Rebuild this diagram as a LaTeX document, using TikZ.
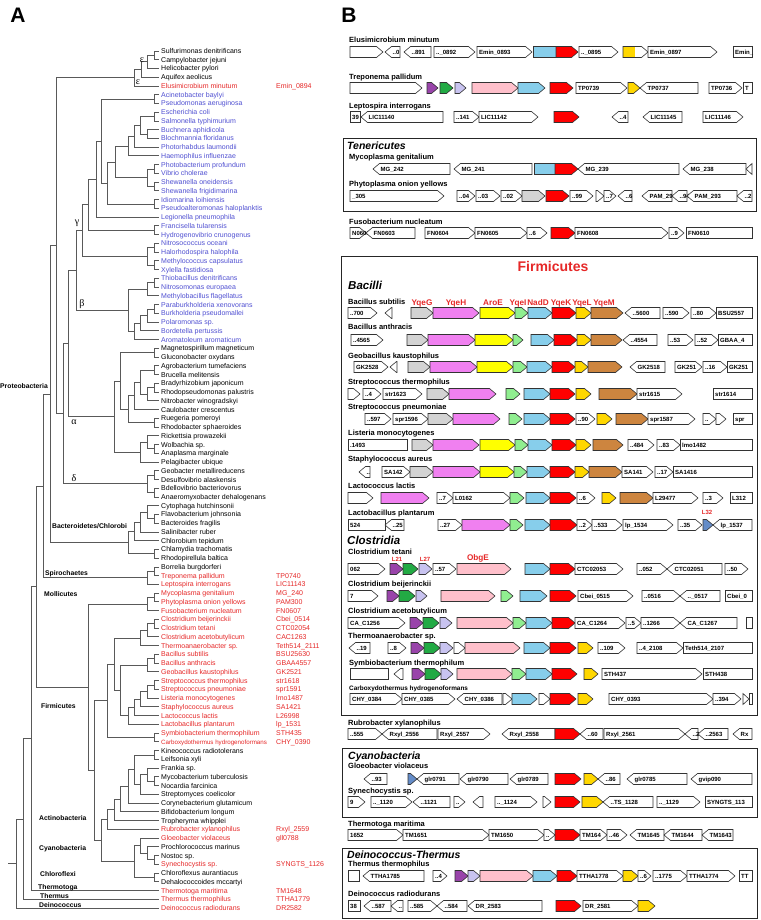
\documentclass[tikz,border=0pt]{standalone}
\usepackage{fontspec}
\setmainfont{Liberation Sans}
\newfontfamily\grk{Liberation Serif}
\definecolor{cgray}{RGB}{211,211,211}
\definecolor{cmag}{RGB}{240,128,240}
\definecolor{cyel}{RGB}{255,255,0}
\definecolor{cgrn}{RGB}{144,238,144}
\definecolor{cblu}{RGB}{135,206,235}
\definecolor{cred}{RGB}{255,0,0}
\definecolor{cgold}{RGB}{255,215,0}
\definecolor{cbrn}{RGB}{205,133,63}
\definecolor{cpur}{RGB}{153,68,170}
\definecolor{cdg}{RGB}{34,170,68}
\definecolor{clav}{RGB}{200,195,240}
\definecolor{cpink}{RGB}{255,192,203}
\definecolor{cstl}{RGB}{100,140,200}
\definecolor{tred}{RGB}{230,40,40}
\definecolor{tblu}{RGB}{80,80,210}
\tikzset{
  gene/.style={draw=black!80, line width=0.6pt, line join=miter},
  glab/.style={font=\fontsize{6}{7}\selectfont\bfseries, inner sep=0pt, anchor=base west, yshift=-2.2pt},
  sp/.style={font=\fontsize{7.5}{9}\selectfont\bfseries, inner sep=0pt, anchor=base west, yshift=-2.7pt},
  sec/.style={font=\fontsize{10.5}{12}\selectfont\bfseries\itshape, inner sep=0pt, anchor=base west, yshift=-3.8pt},
  sec2/.style={font=\fontsize{11.5}{13}\selectfont\bfseries\itshape, inner sep=0pt, anchor=base west, yshift=-4.1pt},
  rlab/.style={font=\fontsize{8.2}{9}\selectfont\bfseries, text=tred, inner sep=0pt, anchor=base, yshift=-3pt},
  slab/.style={font=\fontsize{6}{7}\selectfont\bfseries, text=tred, inner sep=0pt, anchor=base, yshift=-2.2pt},
  boxs/.style={draw=black!85, line width=1pt},
  tree/.style={draw=black!65, line width=0.9pt},
  leaf/.style={font=\fontsize{7}{8}\selectfont, inner sep=0pt, anchor=base west, yshift=-2.5pt},
  clab/.style={font=\fontsize{6.8}{8}\selectfont\bfseries, inner sep=0pt, anchor=base west, yshift=-2.4pt},
  gk/.style={font=\fontsize{10}{11}\selectfont\grk, inner sep=0pt},
  panel/.style={font=\fontsize{21}{22}\selectfont\bfseries, inner sep=0pt}
}
\newcommand\GR[5]{\pgfmathsetmacro\tp{max(#1,#2-6.5)}%
  \draw[gene,fill=#4] (#1,#3-5.5) -- (\tp,#3-5.5) -- (#2,#3) -- (\tp,#3+5.5) -- (#1,#3+5.5) -- cycle;
  \node[glab] at (#1+2,#3) {#5};}
\newcommand\GL[5]{\pgfmathsetmacro\tp{min(#2,#1+6.5)}%
  \draw[gene,fill=#4] (#2,#3-5.5) -- (\tp,#3-5.5) -- (#1,#3) -- (\tp,#3+5.5) -- (#2,#3+5.5) -- cycle;
  \node[glab] at (\tp+1,#3) {#5};}
\newcommand\GB[5]{\draw[gene,fill=#4] (#1,#3-5.5) rectangle (#2,#3+5.5);
  \node[glab] at (#1+2,#3) {#5};}
\newcommand\nd[5]{\draw[tree] (#2,#3) -- (#1,#3) -- (#1,#5) -- (#4,#5);}
\newcommand\lf[4]{\node[leaf,text=#2] at (161,#1) {#3};\node[leaf,text=#2] at (276,#1) {#4};}
\begin{document}
\begin{tikzpicture}[x=1pt,y=-1pt]
\path[use as bounding box, fill=white] (0,0) rectangle (760,920);
\node[panel] (pa) at (18,15) {A};
\node[panel] (pb) at (349,15) {B};
% ================= TREE =================
\begin{scope}[y=-8.745pt, yshift=-42.255pt]
\nd{154}{159}{1}{159}{2}
\nd{147}{154}{1.5}{159}{3}
\nd{141}{147}{2.25}{159}{4}
\nd{134}{141}{3.125}{159}{5}
\nd{154}{159}{6}{159}{7}
\nd{154}{159}{8}{159}{9}
\nd{147}{159}{10}{159}{11}
\nd{140}{154}{8.5}{147}{10.5}
\nd{134}{140}{9.5}{159}{12}
\nd{128}{134}{10.75}{159}{13}
\nd{154}{159}{14}{159}{15}
\nd{154}{159}{16}{159}{17}
\nd{147}{154}{14.5}{154}{16.5}
\nd{115}{128}{11.875}{147}{15.5}
\nd{154}{159}{18}{159}{19}
\nd{107}{115}{13.6875}{154}{18.5}
\nd{101}{154}{6.5}{107}{16.09375}
\nd{96}{101}{11.296875}{159}{20}
\nd{154}{159}{21}{159}{22}
\nd{88}{96}{15.6484}{154}{21.5}
\nd{154}{159}{23}{159}{24}
\nd{154}{159}{25}{159}{26}
\nd{147}{154}{23.5}{154}{25.5}
\nd{82}{88}{18.5742}{147}{24.5}
\nd{154}{159}{27}{159}{28}
\nd{147}{154}{27.5}{159}{29}
\nd{154}{159}{30}{159}{31}
\nd{147}{154}{30.5}{159}{32}
\nd{140}{147}{31.25}{159}{33}
\nd{134}{140}{32.125}{159}{34}
\nd{128}{147}{28.25}{134}{33.0625}
\nd{76}{82}{21.5371}{128}{30.65625}
\nd{154}{159}{35}{159}{36}
\nd{154}{159}{37}{159}{38}
\nd{154}{159}{39}{159}{40}
\nd{147}{154}{39.5}{159}{41}
\nd{140}{154}{37.5}{147}{40.25}
\nd{134}{140}{38.875}{159}{42}
\nd{154}{159}{43}{159}{44}
\nd{128}{134}{40.4375}{154}{43.5}
\nd{120}{154}{35.5}{128}{41.96875}
\nd{154}{159}{46}{159}{47}
\nd{147}{159}{45}{154}{46.5}
\nd{140}{147}{45.75}{159}{48}
\nd{114}{120}{38.734375}{140}{46.875}
\nd{68}{76}{26.0967}{114}{42.8047}
\nd{154}{159}{49}{159}{50}
\nd{154}{159}{51}{159}{52}
\nd{147}{154}{49.5}{154}{51.5}
\nd{63}{68}{34.4507}{147}{50.5}
\nd{56}{134}{4.0625}{63}{42.4754}
\nd{154}{159}{54}{159}{55}
\nd{147}{159}{53}{154}{54.5}
\nd{140}{147}{53.75}{159}{56}
\nd{134}{140}{54.875}{159}{57}
\nd{154}{159}{58}{159}{59}
\nd{128}{134}{55.9375}{154}{58.5}
\nd{50}{56}{23.269}{128}{57.21875}
\nd{154}{159}{60}{159}{61}
\nd{147}{154}{60.5}{159}{62}
\nd{43}{50}{40.2439}{147}{61.25}
\nd{154}{159}{63}{159}{64}
\nd{147}{154}{63.5}{159}{65}
\nd{154}{159}{66}{159}{67}
\nd{147}{154}{66.5}{159}{68}
\nd{140}{147}{67.25}{159}{69}
\nd{154}{159}{70}{159}{71}
\nd{147}{154}{70.5}{159}{72}
\nd{154}{159}{73}{159}{74}
\nd{147}{154}{73.5}{159}{75}
\nd{140}{147}{74.25}{159}{76}
\nd{134}{140}{75.125}{159}{77}
\nd{128}{134}{76.0625}{159}{78}
\nd{120}{147}{71.25}{128}{77.03125}
\nd{114}{140}{68.125}{120}{74.140625}
\nd{154}{159}{79}{159}{80}
\nd{107}{114}{71.1328}{154}{79.5}
\nd{154}{159}{81}{159}{82}
\nd{154}{159}{84}{159}{85}
\nd{147}{159}{83}{154}{84.5}
\nd{140}{147}{83.75}{159}{86}
\nd{134}{154}{81.5}{140}{84.875}
\nd{128}{134}{83.1875}{159}{87}
\nd{120}{128}{85.09375}{159}{88}
\nd{114}{120}{86.546875}{159}{89}
\nd{107}{114}{87.7734}{159}{90}
\nd{154}{159}{93}{159}{94}
\nd{147}{159}{92}{154}{93.5}
\nd{140}{159}{91}{147}{92.75}
\nd{154}{159}{95}{159}{96}
\nd{134}{140}{91.875}{154}{95.5}
\nd{101}{107}{88.8867}{134}{93.6875}
\nd{94}{107}{75.3164}{101}{91.2871}
\nd{88}{147}{64.25}{94}{83.3018}
\nd{36}{43}{50.747}{88}{73.7759}
\nd{31}{36}{62.2615}{159}{97}
\nd{23}{31}{79.6307}{159}{98}
\nd{16}{23}{88.8154}{159}{99}
\draw[tree] (8,93.9077) -- (16,93.9077);
% leaves
\lf{1}{black}{Sulfurimonas denitrificans}{}
\lf{2}{black}{Campylobacter jejuni}{}
\lf{3}{black}{Helicobacter pylori}{}
\lf{4}{black}{Aquifex aeolicus}{}
\lf{5}{tred}{Elusimicrobium minutum}{Emin\_0894}
\lf{6}{tblu}{Acinetobacter baylyi}{}
\lf{7}{tblu}{Pseudomonas aeruginosa}{}
\lf{8}{tblu}{Escherichia coli}{}
\lf{9}{tblu}{Salmonella typhimurium}{}
\lf{10}{tblu}{Buchnera aphidicola}{}
\lf{11}{tblu}{Blochmannia floridanus}{}
\lf{12}{tblu}{Photorhabdus laumondii}{}
\lf{13}{tblu}{Haemophilus influenzae}{}
\lf{14}{tblu}{Photobacterium profundum}{}
\lf{15}{tblu}{Vibrio cholerae}{}
\lf{16}{tblu}{Shewanella oneidensis}{}
\lf{17}{tblu}{Shewanella frigidimarina}{}
\lf{18}{tblu}{Idiomarina loihiensis}{}
\lf{19}{tblu}{Pseudoalteromonas haloplanktis}{}
\lf{20}{tblu}{Legionella pneumophila}{}
\lf{21}{tblu}{Francisella tularensis}{}
\lf{22}{tblu}{Hydrogenovibrio crunogenus}{}
\lf{23}{tblu}{Nitrosococcus oceani}{}
\lf{24}{tblu}{Halorhodospira halophila}{}
\lf{25}{tblu}{Methylococcus capsulatus}{}
\lf{26}{tblu}{Xylella fastidiosa}{}
\lf{27}{tblu}{Thiobacillus denitrificans}{}
\lf{28}{tblu}{Nitrosomonas europaea}{}
\lf{29}{tblu}{Methylobacillus flagellatus}{}
\lf{30}{tblu}{Paraburkholderia xenovorans}{}
\lf{31}{tblu}{Burkholderia pseudomallei}{}
\lf{32}{tblu}{Polaromonas sp.}{}
\lf{33}{tblu}{Bordetella pertussis}{}
\lf{34}{tblu}{Aromatoleum aromaticum}{}
\lf{35}{black}{Magnetospirillum magneticum}{}
\lf{36}{black}{Gluconobacter oxydans}{}
\lf{37}{black}{Agrobacterium tumefaciens}{}
\lf{38}{black}{Brucella melitensis}{}
\lf{39}{black}{Bradyrhizobium japonicum}{}
\lf{40}{black}{Rhodopseudomonas palustris}{}
\lf{41}{black}{Nitrobacter winogradskyi}{}
\lf{42}{black}{Caulobacter crescentus}{}
\lf{43}{black}{Ruegeria pomeroyi}{}
\lf{44}{black}{Rhodobacter sphaeroides}{}
\lf{45}{black}{Rickettsia prowazekii}{}
\lf{46}{black}{Wolbachia sp.}{}
\lf{47}{black}{Anaplasma marginale}{}
\lf{48}{black}{Pelagibacter ubique}{}
\lf{49}{black}{Geobacter metallireducens}{}
\lf{50}{black}{Desulfovibrio alaskensis}{}
\lf{51}{black}{Bdellovibrio bacteriovorus}{}
\lf{52}{black}{Anaeromyxobacter dehalogenans}{}
\lf{53}{black}{Cytophaga hutchinsonii}{}
\lf{54}{black}{Flavobacterium johnsonia}{}
\lf{55}{black}{Bacteroides fragilis}{}
\lf{56}{black}{Salinibacter ruber}{}
\lf{57}{black}{Chlorobium tepidum}{}
\lf{58}{black}{Chlamydia trachomatis}{}
\lf{59}{black}{Rhodopirellula baltica}{}
\lf{60}{black}{Borrelia burgdorferi}{}
\lf{61}{tred}{Treponema pallidum}{TP0740}
\lf{62}{tred}{Leptospira interrogans}{LIC11143}
\lf{63}{tred}{Mycoplasma genitalium}{MG\_240}
\lf{64}{tred}{Phytoplasma onion yellows}{PAM300}
\lf{65}{tred}{Fusobacterium nucleatum}{FN0607}
\lf{66}{tred}{Clostridium beijerinckii}{Cbei\_0514}
\lf{67}{tred}{Clostridium tetani}{CTC02054}
\lf{68}{tred}{Clostridium acetobutylicum}{CAC1263}
\lf{69}{tred}{Thermoanaerobacter sp.}{Teth514\_2111}
\lf{70}{tred}{Bacillus subtilis}{BSU25630}
\lf{71}{tred}{Bacillus anthracis}{GBAA4557}
\lf{72}{tred}{Geobacillus kaustophilus}{GK2521}
\lf{73}{tred}{Streptococcus thermophilus}{str1618}
\lf{74}{tred}{Streptococcus pneumoniae}{spr1591}
\lf{75}{tred}{Listeria monocytogenes}{lmo1487}
\lf{76}{tred}{Staphylococcus aureus}{SA1421}
\lf{77}{tred}{Lactococcus lactis}{L26998}
\lf{78}{tred}{Lactobacillus plantarum}{lp\_1531}
\lf{79}{tred}{Symbiobacterium thermophilum}{STH435}
\node[leaf,text=tred,font=\fontsize{6.2}{7}\selectfont] (carb) at (161,80) {Carboxydothermus hydrogenoformans};
\node[leaf,text=tred] (carbid) at (276,80) {CHY\_0390};
\lf{81}{black}{Kineococcus radiotolerans}{}
\lf{82}{black}{Leifsonia xyli}{}
\lf{83}{black}{Frankia sp.}{}
\lf{84}{black}{Mycobacterium tuberculosis}{}
\lf{85}{black}{Nocardia farcinica}{}
\lf{86}{black}{Streptomyces coelicolor}{}
\lf{87}{black}{Corynebacterium glutamicum}{}
\lf{88}{black}{Bifidobacterium longum}{}
\lf{89}{black}{Tropheryma whipplei}{}
\lf{90}{tred}{Rubrobacter xylanophilus}{Rxyl\_2559}
\lf{91}{tred}{Gloeobacter violaceus}{gll0788}
\lf{92}{black}{Prochlorococcus marinus}{}
\lf{93}{black}{Nostoc sp.}{}
\lf{94}{tred}{Synechocystis sp.}{SYNGTS\_1126}
\lf{95}{black}{Chloroflexus aurantiacus}{}
\lf{96}{black}{Dehalococcoides mccartyi}{}
\lf{97}{tred}{Thermotoga maritima}{TM1648}
\lf{98}{tred}{Thermus thermophilus}{TTHA1779}
\lf{99}{tred}{Deinococcus radiodurans}{DR2582}
\end{scope}
% greek clade letters
\node[gk] (e1) at (142,60) {ε};
\node[gk] (e2) at (138,82) {ε};
\node[gk] (gm) at (77,223) {γ};
\node[gk] (bt) at (82,304) {β};
\node[gk] (al) at (74,422) {α};
\node[gk] (dl) at (74,478) {δ};
% clade names
\node[clab] (c1) at (0,386) {Proteobacteria};
\node[clab] (c2) at (52,526) {Bacteroidetes/Chlorobi};
\node[clab] (c3) at (45,573) {Spirochaetes};
\node[clab] (c4) at (44,594) {Mollicutes};
\node[clab] (c5) at (41,706) {Firmicutes};
\node[clab] (c6) at (39,818) {Actinobacteria};
\node[clab] (c7) at (39,848) {Cyanobacteria};
\node[clab] (c8) at (40,874) {Chloroflexi};
\node[clab] (c9) at (38,887) {Thermotoga};
\node[clab] (c10) at (40,896) {Thermus};
\node[clab] (c11) at (39,905) {Deinococcus};
% ================= PANEL B =================
% Elusimicrobium
\node[sp] (s1) at (349,40) {Elusimicrobium minutum};
\GR{350}{383}{52}{white}{}
\GL{385}{400}{52}{white}{..0}
\GL{404}{431}{52}{white}{..891}
\GR{434}{475}{52}{white}{..\_0892}
\GR{477}{532}{52}{white}{Emin\_0893}
\GB{533}{556}{52}{cblu}{}
\GR{556}{578}{52}{cred}{}
\GR{579}{618}{52}{white}{..\_0895}
\fill[cgold] (623,46.5) rectangle (635,57.5);
\GR{623}{648}{52}{none}{}
\GR{648}{717}{52}{white}{Emin\_0897}
\GB{733}{752}{52}{white}{Emin\_}
% Treponema
\node[sp] (s2) at (349,77) {Treponema pallidum};
\GR{350}{422}{88}{white}{}
\GR{427}{438}{88}{cpur}{}
\GR{440}{453}{88}{cdg}{}
\GR{455}{466}{88}{clav}{}
\GR{472}{518}{88}{cpink}{}
\GR{518}{545}{88}{cblu}{}
\GR{550}{573}{88}{cred}{}
\GR{576}{627}{88}{white}{TP0739}
\GR{628}{640}{88}{cgold}{}
\GL{640}{698}{88}{white}{TP0737}
\GR{709}{742}{88}{white}{TP0736}
\GB{743}{752}{88}{white}{T}
% Leptospira
\node[sp] (s3) at (349,106) {Leptospira interrogans};
\GB{350}{360}{117}{white}{39}
\GL{361}{443}{117}{white}{LIC11140}
\GR{454}{479}{117}{white}{..141}
\GR{479}{538}{117}{white}{LIC11142}
\GR{554}{579}{117}{cred}{}
\GL{612}{628}{117}{white}{..4}
\GL{643}{682}{117}{white}{LIC11145}
\GR{703}{743}{117}{white}{LIC11146}
% Tenericutes
\draw[boxs] (343,139) rectangle (756,211);
\node[sec] (t1) at (347,146) {Tenericutes};
\node[sp] (s4) at (349,157) {Mycoplasma genitalium};
\GL{373}{450}{169}{white}{MG\_242}
\GL{454}{532}{169}{white}{MG\_241}
\GB{534}{555}{169}{cblu}{}
\GR{555}{578}{169}{cred}{}
\GL{578}{679}{169}{white}{MG\_239}
\GL{683}{746}{169}{white}{MG\_238}
\GL{746}{752}{169}{white}{}
\node[sp] (s5) at (349,184) {Phytoplasma onion yellows};
\GR{350}{444}{196}{white}{\_305}
\GR{457}{475}{196}{white}{..04}
\GR{476}{500}{196}{white}{..03}
\GR{501}{522}{196}{white}{..02}
\GR{522}{545}{196}{cgray}{}
\GR{546}{569}{196}{cred}{}
\GR{570}{593}{196}{white}{..99}
\GR{596}{604}{196}{white}{}
\GR{604}{616}{196}{white}{..7}
\GL{618}{632}{196}{white}{..6}
\GL{642}{672}{196}{white}{PAM\_29}
\GL{672}{687}{196}{white}{..94}
\GL{687}{737}{196}{white}{PAM\_293}
\GL{737}{752}{196}{white}{..2}
% Fusobacterium
\node[sp] (s6) at (349,222) {Fusobacterium nucleatum};
\GR{350}{366}{233}{white}{N0602}
\GL{366}{415}{233}{white}{FN0603}
\GR{425}{475}{233}{white}{FN0604}
\GR{475}{527}{233}{white}{FN0605}
\GR{527}{547}{233}{white}{..6}
\GR{551}{575}{233}{cred}{}
\GR{575}{668}{233}{white}{FN0608}
\GR{669}{684}{233}{white}{..9}
\GB{686}{752}{233}{white}{FN0610}
% Firmicutes box
\draw[boxs] (341,256) rectangle (757,715);
\node[font=\fontsize{14}{16}\selectfont\bfseries, text=tred, inner sep=0pt] (ft) at (553,266) {Firmicutes};
\node[sec2] (t2) at (348,285) {Bacilli};
% B. subtilis
\node[sp] (s7) at (348,302) {Bacillus subtilis};
\node[rlab] (r1) at (422,302) {YqeG};
\node[rlab] (r2) at (456,302) {YqeH};
\node[rlab] (r3) at (493,302) {AroE};
\node[rlab] (r4) at (518,302) {YqeI};
\node[rlab] (r5) at (538,302) {NadD};
\node[rlab] (r6) at (561,302) {YqeK};
\node[rlab] (r7) at (582,302) {YqeL};
\node[rlab] (r8) at (604,302) {YqeM};
\GR{348}{377}{313}{white}{..700}
\GL{385}{392}{313}{white}{}
\GR{411}{433}{313}{cgray}{}
\GR{433}{479}{313}{cmag}{}
\GR{480}{515}{313}{cyel}{}
\GR{515}{528}{313}{cgrn}{}
\GR{528}{552}{313}{cblu}{}
\GR{552}{576}{313}{cred}{}
\GR{576}{591}{313}{cgold}{}
\GR{591}{623}{313}{cbrn}{}
\GL{625}{660}{313}{white}{..5600}
\GR{663}{689}{313}{white}{..590}
\GR{691}{716}{313}{white}{..80}
\GB{716}{752}{313}{white}{BSU2557}
% B. anthracis
\node[sp] (s8) at (348,327) {Bacillus anthracis};
\GR{351}{383}{340}{white}{..4565}
\GR{407}{428}{340}{cgray}{}
\GR{428}{475}{340}{cmag}{}
\GR{475}{513}{340}{cyel}{}
\GR{513}{523}{340}{cgrn}{}
\GR{531}{554}{340}{cblu}{}
\GR{554}{577}{340}{cred}{}
\GR{577}{591}{340}{cgold}{}
\GR{591}{622}{340}{cbrn}{}
\GL{623}{657}{340}{white}{..4554}
\GR{668}{693}{340}{white}{..53}
\GR{695}{718}{340}{white}{..52}
\GB{718}{752}{340}{white}{GBAA\_4}
% Geobacillus
\node[sp] (s9) at (348,356) {Geobacillus kaustophilus};
\GR{354}{388}{367}{white}{GK2528}
\GL{390}{397}{367}{white}{}
\GR{408}{430}{367}{cgray}{}
\GR{430}{477}{367}{cmag}{}
\GR{477}{513}{367}{cyel}{}
\GR{513}{527}{367}{cgrn}{}
\GR{527}{552}{367}{cblu}{}
\GR{552}{575}{367}{cred}{}
\GR{575}{588}{367}{cgold}{}
\GR{588}{622}{367}{cbrn}{}
\GL{630}{665}{367}{white}{GK2518}
\GR{675}{702}{367}{white}{GK251}
\GR{703}{727}{367}{white}{..16}
\GB{727}{752}{367}{white}{GK251}
% S. thermophilus
\node[sp] (s10) at (348,382) {Streptococcus thermophilus};
\GR{348}{360}{394}{white}{}
\GR{363}{381}{394}{white}{..4}
\GR{383}{422}{394}{white}{str1623}
\GR{427}{449}{394}{cgray}{}
\GR{449}{496}{394}{cmag}{}
\GR{506}{520}{394}{cgrn}{}
\GR{524}{550}{394}{cblu}{}
\GR{550}{575}{394}{cred}{}
\GR{576}{591}{394}{cgold}{}
\GR{599}{637}{394}{cbrn}{}
\GR{637}{682}{394}{white}{str1615}
\GB{713}{752}{394}{white}{str1614}
% S. pneumoniae
\node[sp] (s11) at (348,407) {Streptococcus pneumoniae};
\GR{365}{391}{419}{white}{..597}
\GR{393}{428}{419}{white}{spr1596}
\GR{428}{453}{419}{cgray}{}
\GR{453}{500}{419}{cmag}{}
\GR{509}{522}{419}{cgrn}{}
\GR{524}{550}{419}{cblu}{}
\GR{550}{575}{419}{cred}{}
\GR{576}{595}{419}{white}{..90}
\GR{597}{612}{419}{cgold}{}
\GR{616}{648}{419}{cbrn}{}
\GR{648}{695}{419}{white}{spr1587}
\GR{703}{716}{419}{white}{..}
\GR{716}{726}{419}{white}{}
\GB{733}{752}{419}{white}{spr}
% Listeria
\node[sp] (s12) at (348,433) {Listeria monocytogenes};
\GB{348}{407}{445}{white}{.1493}
\GR{412}{433}{445}{cgray}{}
\GR{433}{479}{445}{cmag}{}
\GR{480}{515}{445}{cyel}{}
\GR{515}{528}{445}{cgrn}{}
\GR{528}{552}{445}{cblu}{}
\GR{552}{576}{445}{cred}{}
\GR{576}{591}{445}{cgold}{}
\GR{593}{623}{445}{cbrn}{}
\GR{628}{654}{445}{white}{..484}
\GR{657}{680}{445}{white}{..83}
\GB{680}{752}{445}{white}{lmo1482}
% Staphylococcus
\node[sp] (s13) at (348,459) {Staphylococcus aureus};
\GL{359}{370}{472}{white}{..}
\GR{382}{410}{472}{white}{SA142}
\GR{410}{433}{472}{cgray}{}
\GR{433}{480}{472}{cmag}{}
\GR{480}{514}{472}{cyel}{}
\GR{514}{527}{472}{cgrn}{}
\GR{527}{550}{472}{cblu}{}
\GR{550}{575}{472}{cred}{}
\GR{575}{589}{472}{cgold}{}
\GR{589}{622}{472}{cbrn}{}
\GR{622}{653}{472}{white}{SA141}
\GR{655}{673}{472}{white}{..17}
\GB{673}{752}{472}{white}{SA1416}
% Lactococcus
\node[sp] (s14) at (348,486) {Lactococcus lactis};
\GR{348}{373}{498}{white}{}
\GR{381}{429}{498}{cmag}{}
\GR{437}{453}{498}{white}{..7}
\GR{453}{510}{498}{white}{L0162}
\GR{510}{524}{498}{cgrn}{}
\GR{526}{550}{498}{cblu}{}
\GR{550}{576}{498}{cred}{}
\GR{577}{595}{498}{white}{..6}
\GR{602}{616}{498}{cgold}{}
\GR{620}{653}{498}{cbrn}{}
\GR{653}{698}{498}{white}{L29477}
\GR{703}{723}{498}{white}{..3}
\GB{730}{752}{498}{white}{L312}
% Lactobacillus
\node[sp] (s15) at (348,513) {Lactobacillus plantarum};
\node[slab] (l32) at (707,512) {L32};
\GB{348}{385}{525}{white}{524}
\GL{385}{404}{525}{white}{..25}
\GR{438}{462}{525}{white}{..27}
\GR{462}{510}{525}{cmag}{}
\GR{510}{523}{525}{cgrn}{}
\GR{525}{550}{525}{cblu}{}
\GR{550}{577}{525}{cred}{}
\GR{577}{592}{525}{white}{..2}
\GR{592}{622}{525}{white}{..533}
\GR{623}{673}{525}{white}{lp\_1534}
\GR{678}{702}{525}{white}{..35}
\GR{703}{713}{525}{cstl}{}
\GL{713}{752}{525}{white}{lp\_1537}
% Clostridia
\node[sec2] (t3) at (347,540) {Clostridia};
\node[sp] (s16) at (348,552) {Clostridium tetani};
\node[slab] (l21) at (397,559) {L21};
\node[slab] (l27) at (425,559) {L27};
\node[rlab] (obg) at (478,557) {ObgE};
\GR{348}{385}{569}{white}{062}
\GR{390}{403}{569}{cpur}{}
\GR{403}{418}{569}{cdg}{}
\GR{419}{432}{569}{clav}{}
\GR{433}{456}{569}{white}{..57}
\GR{457}{511}{569}{cpink}{}
\GR{525}{550}{569}{cblu}{}
\GR{550}{575}{569}{cred}{}
\GR{575}{623}{569}{white}{CTC02053}
\GR{637}{667}{569}{white}{..052}
\GL{667}{722}{569}{white}{CTC02051}
\GR{725}{748}{569}{white}{..50}
% C. beijerinckii
\node[sp] (s17) at (348,584) {Clostridium beijerinckii};
\GR{348}{378}{596}{white}{7}
\GR{387}{399}{596}{cpur}{}
\GR{399}{415}{596}{cdg}{}
\GR{416}{427}{596}{clav}{}
\GR{441}{495}{596}{cpink}{}
\GR{501}{513}{596}{cgrn}{}
\GR{520}{547}{596}{cblu}{}
\GR{550}{576}{596}{cred}{}
\GR{578}{633}{596}{white}{Cbei\_0515}
\GR{642}{680}{596}{white}{..0516}
\GL{680}{720}{596}{white}{..\_0517}
\GB{725}{752}{596}{white}{Cbei\_0}
% C. acetobutylicum
\node[sp] (s18) at (348,611) {Clostridium acetobutylicum};
\GR{348}{405}{623}{white}{CA\_C1256}
\GR{410}{423}{623}{cpur}{}
\GR{423}{439}{623}{cdg}{}
\GR{440}{452}{623}{clav}{}
\GR{457}{513}{623}{cpink}{}
\GR{513}{526}{623}{cgrn}{}
\GR{526}{552}{623}{cblu}{}
\GR{552}{575}{623}{cred}{}
\GR{575}{625}{623}{white}{CA\_C1264}
\GR{626}{641}{623}{white}{..5}
\GR{641}{680}{623}{white}{..1266}
\GL{680}{737}{623}{white}{CA\_C1267}
\GB{746}{752}{623}{white}{}
% Thermoanaerobacter
\node[sp] (s19) at (348,636) {Thermoanaerobacter sp.};
\GL{349}{370}{648}{white}{..19}
\GR{388}{406}{648}{white}{..8}
\GR{411}{424}{648}{cpur}{}
\GR{424}{440}{648}{cdg}{}
\GR{440}{453}{648}{clav}{}
\GR{454}{465}{648}{white}{}
\GR{465}{520}{648}{cpink}{}
\GR{524}{550}{648}{cblu}{}
\GR{550}{576}{648}{cred}{}
\GR{578}{593}{648}{cgold}{}
\GR{598}{625}{648}{white}{..109}
\GR{637}{683}{648}{white}{..4\_2108}
\GB{683}{752}{648}{white}{Teth514\_2107}
% Symbiobacterium
\node[sp] (s20) at (349,663) {Symbiobacterium thermophilum};
\GB{350}{388}{674}{white}{}
\GL{394}{403}{674}{white}{}
\GR{412}{425}{674}{cpur}{}
\GR{425}{441}{674}{cdg}{}
\GR{441}{453}{674}{clav}{}
\GR{457}{512}{674}{cpink}{}
\GR{512}{526}{674}{cgrn}{}
\GR{526}{552}{674}{cblu}{}
\GR{552}{577}{674}{cred}{}
\GR{584}{598}{674}{cgold}{}
\GR{602}{702}{674}{white}{STH437}
\GB{703}{752}{674}{white}{STH438}
% Carboxydothermus
\node[sp,font=\fontsize{6.4}{7}\selectfont\bfseries] (s21) at (349,688) {Carboxydothermus hydrogenoformans};
\GR{350}{402}{699}{white}{CHY\_0384}
\GR{402}{455}{699}{white}{CHY\_0385}
\GL{457}{502}{699}{white}{CHY\_0386}
\GR{503}{512}{699}{white}{}
\GR{512}{537}{699}{cblu}{}
\GR{539}{550}{699}{white}{}
\GR{550}{576}{699}{cred}{}
\GR{578}{593}{699}{cgold}{}
\GR{609}{713}{699}{white}{CHY\_0393}
\GR{713}{741}{699}{white}{..394}
\GR{743}{749}{699}{white}{}
\GB{749}{752}{699}{white}{}
% Rubrobacter
\node[sp] (s22) at (348,723) {Rubrobacter xylanophilus};
\GR{348}{382}{734}{white}{..555}
\GL{382}{437}{734}{white}{Rxyl\_2556}
\GR{438}{490}{734}{white}{Rxyl\_2557}
\GL{502}{555}{734}{white}{Rxyl\_2558}
\GR{555}{580}{734}{cred}{}
\GL{580}{603}{734}{white}{..60}
\GR{604}{685}{734}{white}{Rxyl\_2561}
\GL{685}{698}{734}{white}{..2}
\GL{698}{728}{734}{white}{..2563}
\GL{733}{752}{734}{white}{Rx}
% Cyanobacteria
\draw[boxs] (342,748) rectangle (757,817);
\node[sec] (t4) at (348,756) {Cyanobacteria};
\node[sp] (s23) at (348,766) {Gloeobacter violaceus};
\GL{364}{387}{779}{white}{..93}
\GR{408}{417}{779}{cstl}{}
\GL{417}{459}{779}{white}{glr0791}
\GL{460}{508}{779}{white}{glr0790}
\GL{510}{548}{779}{white}{glr0789}
\GR{555}{581}{779}{cred}{}
\GR{584}{598}{779}{cgold}{}
\GL{598}{620}{779}{white}{..86}
\GL{627}{687}{779}{white}{glr0785}
\GL{691}{752}{779}{white}{gvip090}
\node[sp] (s24) at (348,791) {Synechocystis sp.};
\GR{348}{365}{802}{white}{9}
\GR{371}{412}{802}{white}{..\_1120}
\GL{413}{450}{802}{white}{..1121}
\GR{454}{465}{802}{white}{..}
\GL{473}{483}{802}{white}{}
\GR{495}{537}{802}{white}{..\_1124}
\GR{543}{551}{802}{white}{}
\GR{555}{580}{802}{cred}{}
\GR{582}{603}{802}{cgold}{}
\GL{603}{653}{802}{white}{..TS\_1128}
\GR{657}{700}{802}{white}{..\_1129}
\GB{705}{752}{802}{white}{SYNGTS\_113}
% Thermotoga
\node[sp] (s25) at (348,824) {Thermotoga maritima};
\GR{348}{403}{835}{white}{1652}
\GR{403}{489}{835}{white}{TM1651}
\GR{489}{544}{835}{white}{TM1650}
\GR{544}{555}{835}{white}{..}
\GR{555}{580}{835}{cred}{}
\GR{580}{607}{835}{white}{TM164}
\GR{607}{627}{835}{white}{..46}
\GL{630}{664}{835}{white}{TM1645}
\GL{664}{702}{835}{white}{TM1644}
\GL{702}{733}{835}{white}{TM1643}
% Deinococcus-Thermus
\draw[boxs] (342,848) rectangle (757,918);
\node[sec] (t5) at (347,855) {Deinococcus-Thermus};
\node[sp] (s26) at (348,864) {Thermus thermophilus};
\GB{348}{359}{876}{white}{}
\GL{363}{424}{876}{white}{TTHA1785}
\GR{433}{447}{876}{white}{..4}
\GR{455}{468}{876}{cpur}{}
\GR{468}{480}{876}{clav}{}
\GR{480}{533}{876}{cpink}{}
\GR{533}{557}{876}{cblu}{}
\GR{557}{577}{876}{cred}{}
\GR{577}{623}{876}{white}{TTHA1778}
\GR{623}{638}{876}{cgold}{}
\GR{638}{651}{876}{white}{..6}
\GR{653}{687}{876}{white}{..1775}
\GR{687}{735}{876}{white}{TTHA1774}
\GB{739}{752}{876}{white}{TT}
\node[sp] (s27) at (348,894) {Deinococcus radiodurans};
\GB{348}{360}{906}{white}{38}
\GL{364}{391}{906}{white}{..587}
\GL{391}{403}{906}{white}{..}
\GR{408}{437}{906}{white}{..585}
\GL{437}{467}{906}{white}{..584}
\GL{468}{542}{906}{white}{DR\_2583}
\GR{556}{581}{906}{cred}{}
\GR{583}{638}{906}{white}{DR\_2581}
\GR{638}{655}{906}{cgold}{}
\end{tikzpicture}
\end{document}
